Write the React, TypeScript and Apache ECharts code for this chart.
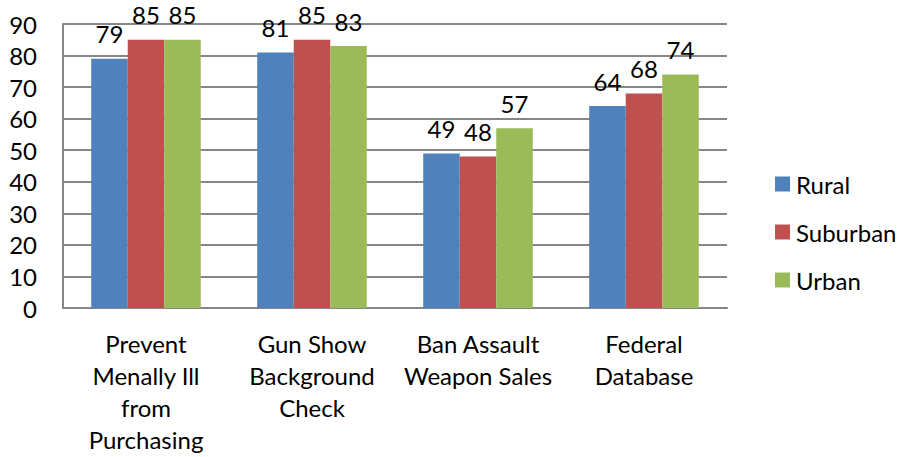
import React, { useEffect, useRef } from "react";
import * as echarts from "echarts";

const categories = [
  "Prevent\nMenally Ill\nfrom\nPurchasing",
  "Gun Show\nBackground\nCheck",
  "Ban Assault\nWeapon Sales",
  "Federal\nDatabase",
];
const rural = [79, 81, 49, 64];
const suburban = [85, 85, 48, 68];
const urban = [85, 83, 57, 74];
const seriesNames = ["Rural", "Suburban", "Urban"];
const colors = ["#4F81BD", "#C0504D", "#9BBB59"];

const FONT = "Lato, 'Open Sans', sans-serif";
const FS = 24;

export default function App() {
  const ref = useRef<HTMLDivElement>(null);
  useEffect(() => {
    if (!ref.current) return;
    const chart = echarts.init(ref.current, undefined, { renderer: "svg" });
    const data = [rural, suburban, urban];
    chart.setOption({
      animation: false,
      textStyle: { fontFamily: FONT },
      grid: { left: 63, right: 171, top: 24, bottom: 149, containLabel: false },
      legend: {
        orient: "vertical",
        left: 770,
        top: 167,
        itemWidth: 15,
        itemHeight: 15,
        itemGap: 24,
        icon: "rect",
        textStyle: { fontSize: FS, color: "#000", fontFamily: FONT, padding: [0, 0, 0, 1] },
        data: seriesNames,
      },
      xAxis: {
        type: "category",
        data: categories,
        axisLine: { show: true, lineStyle: { color: "#868686", width: 2 } },
        axisTick: { show: false },
        axisLabel: {
          interval: 0,
          margin: 19,
          fontSize: FS,
          lineHeight: 32,
          color: "#000",
          fontFamily: FONT,
        },
      },
      yAxis: {
        type: "value",
        min: 0,
        max: 90,
        interval: 10,
        axisLine: { show: true, lineStyle: { color: "#868686", width: 2 } },
        axisTick: { show: false },
        splitLine: { show: true, lineStyle: { color: "#868686", width: 2 } },
        axisLabel: { margin: 26, fontSize: FS, color: "#000", fontFamily: FONT },
      },
      series: seriesNames.map((name, i) => ({
        name,
        type: "bar",
        data: data[i],
        barGap: "0%",
        barCategoryGap: "34%",
        itemStyle: { color: colors[i] },
        label: {
          show: true,
          position: "top",
          distance: 13,
          fontSize: FS,
          lineHeight: 24,
          color: "#000",
          fontFamily: FONT,
        },
      })),
    });
    return () => chart.dispose();
  }, []);
  return <div ref={ref} style={{ width: 898, height: 457, position: "absolute", left: 0, top: 0 }} />;
}
